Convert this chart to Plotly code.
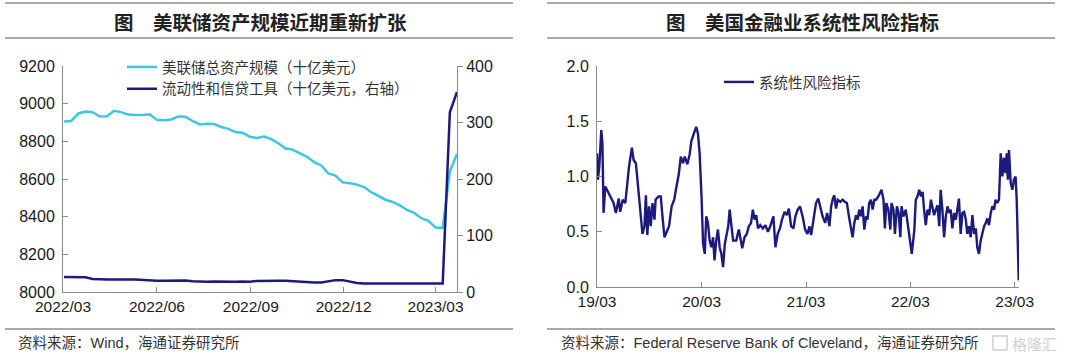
import pandas as pd
import plotly.graph_objects as go

# ---------------- data: left chart (weekly, 十亿美元) ----------------
week_start = "2022-03-02"
fed_total_assets = [
    8905, 8908, 8948, 8958, 8955, 8932, 8933, 8962, 8955, 8942,
    8940, 8940, 8944, 8914, 8912, 8916, 8932, 8930, 8908, 8890,
    8893, 8892, 8876, 8866, 8849, 8846, 8824, 8818, 8826, 8812,
    8790, 8762, 8756, 8738, 8718, 8690, 8672, 8630, 8618, 8582,
    8578, 8570, 8557, 8530, 8508, 8490, 8478, 8460, 8436, 8420,
    8392, 8378, 8342, 8340, 8639, 8733,
]
liquidity_credit = [
    26.5, 26.5, 26, 26, 23, 22, 22, 22, 22.5, 22,
    22, 21, 20, 20, 20, 20, 20.5, 20.5, 19, 18,
    18, 18.5, 18, 18, 18, 18.5, 18, 19.5, 20, 20,
    20, 20, 19, 18, 18, 17, 17, 19, 21, 21,
    18, 16, 15, 15, 15, 15, 15, 15, 15, 15,
    15, 15, 15, 15, 318, 354,
]
week_dates = pd.date_range(week_start, periods=len(fed_total_assets), freq="7D")

left_x_ticks = ["2022-03-01", "2022-06-01", "2022-09-01", "2022-12-01", "2023-03-01"]
left_x_labels = ["2022/03", "2022/06", "2022/09", "2022/12", "2023/03"]

# ---------------- data: right chart (系统性风险指标) ----------------
risk_dates = [
    "2019-03-01", "2019-03-04", "2019-03-09", "2019-03-16", "2019-03-20", "2019-03-24", "2019-03-30",
    "2019-04-05", "2019-04-16", "2019-04-28", "2019-05-06", "2019-05-16", "2019-05-21", "2019-05-30",
    "2019-06-08", "2019-06-13", "2019-06-21", "2019-07-01", "2019-07-07", "2019-07-15", "2019-07-24",
    "2019-08-02", "2019-08-07", "2019-08-14", "2019-08-19", "2019-08-24", "2019-08-30", "2019-09-05",
    "2019-09-11", "2019-09-18", "2019-09-22", "2019-10-02", "2019-10-10", "2019-10-16", "2019-10-23",
    "2019-10-31", "2019-11-08", "2019-11-17", "2019-11-26", "2019-12-04", "2019-12-12", "2019-12-19",
    "2019-12-27", "2020-01-02", "2020-01-11", "2020-01-19", "2020-01-25", "2020-02-03", "2020-02-11",
    "2020-02-17", "2020-02-23", "2020-03-01", "2020-03-06", "2020-03-12", "2020-03-17", "2020-03-23",
    "2020-03-29", "2020-04-04", "2020-04-10", "2020-04-15", "2020-04-21", "2020-04-27", "2020-05-03",
    "2020-05-09", "2020-05-15", "2020-05-21", "2020-05-27", "2020-06-02", "2020-06-07", "2020-06-13",
    "2020-06-19", "2020-06-30", "2020-07-09", "2020-07-14", "2020-07-21", "2020-07-29", "2020-08-06",
    "2020-08-13", "2020-08-21", "2020-08-27", "2020-09-02", "2020-09-08", "2020-09-14", "2020-09-22",
    "2020-10-01", "2020-10-10", "2020-10-19", "2020-10-27", "2020-11-03", "2020-11-07", "2020-11-14",
    "2020-11-22", "2020-11-30", "2020-12-07", "2020-12-16", "2020-12-24", "2020-12-31", "2021-01-08",
    "2021-01-16", "2021-01-23", "2021-01-31", "2021-02-08", "2021-02-17", "2021-02-26", "2021-03-06",
    "2021-03-13", "2021-03-19", "2021-03-28", "2021-04-05", "2021-04-13", "2021-04-20", "2021-04-28",
    "2021-05-07", "2021-05-14", "2021-05-22", "2021-05-28", "2021-06-03", "2021-06-08", "2021-06-14",
    "2021-06-20", "2021-06-29", "2021-07-07", "2021-07-15", "2021-07-22", "2021-07-31", "2021-08-05",
    "2021-08-11", "2021-08-17", "2021-08-23", "2021-08-29", "2021-09-03", "2021-09-09", "2021-09-15",
    "2021-09-21", "2021-09-27", "2021-10-02", "2021-10-08", "2021-10-14", "2021-10-20", "2021-10-26",
    "2021-11-01", "2021-11-09", "2021-11-16", "2021-11-20", "2021-11-27", "2021-12-02", "2021-12-07",
    "2021-12-14", "2021-12-21", "2021-12-25", "2022-01-01", "2022-01-06", "2022-01-13", "2022-01-19",
    "2022-01-25", "2022-01-29", "2022-02-05", "2022-02-13", "2022-02-21", "2022-02-28", "2022-03-06",
    "2022-03-15", "2022-03-20", "2022-03-26", "2022-04-01", "2022-04-07", "2022-04-13", "2022-04-18",
    "2022-04-24", "2022-04-30", "2022-05-06", "2022-05-12", "2022-05-17", "2022-05-23", "2022-05-29",
    "2022-06-04", "2022-06-10", "2022-06-15", "2022-06-21", "2022-06-27", "2022-07-03", "2022-07-09",
    "2022-07-15", "2022-07-20", "2022-07-26", "2022-08-01", "2022-08-07", "2022-08-13", "2022-08-18",
    "2022-08-24", "2022-08-30", "2022-09-05", "2022-09-11", "2022-09-16", "2022-09-22", "2022-09-28",
    "2022-10-04", "2022-10-10", "2022-10-16", "2022-10-21", "2022-10-27", "2022-11-02", "2022-11-08",
    "2022-11-14", "2022-11-20", "2022-11-25", "2022-12-01", "2022-12-07", "2022-12-13", "2022-12-19",
    "2022-12-24", "2022-12-30", "2023-01-05", "2023-01-11", "2023-01-17", "2023-01-22", "2023-01-28",
    "2023-02-01", "2023-02-05", "2023-02-09", "2023-02-15", "2023-02-21", "2023-02-26", "2023-03-04",
    "2023-03-08", "2023-03-11", "2023-03-15",
]
risk_values = [
    1.21, 0.97, 1.09, 1.42, 1.30, 0.67, 0.91,
    0.88, 0.82, 0.76, 0.67, 0.80, 0.68, 0.79,
    0.76, 0.89, 1.09, 1.26, 1.15, 1.12, 0.85,
    0.61, 0.48, 0.55, 0.83, 0.47, 0.73, 0.55,
    0.76, 0.61, 0.79, 0.82, 0.82, 0.64, 0.45,
    0.50, 0.55, 0.73, 0.79, 0.91, 1.02, 1.18,
    1.12, 1.18, 1.11, 1.20, 1.32, 1.39, 1.45,
    1.39, 1.21, 0.79, 0.39, 0.30, 0.64, 0.58,
    0.42, 0.36, 0.45, 0.24, 0.42, 0.52, 0.36,
    0.30, 0.18, 0.39, 0.48, 0.55, 0.70, 0.55,
    0.42, 0.42, 0.52, 0.45, 0.35, 0.45, 0.48,
    0.55, 0.58, 0.70, 0.61, 0.65, 0.53, 0.56,
    0.53, 0.56, 0.50, 0.55, 0.61, 0.64, 0.36,
    0.48, 0.53, 0.61, 0.68, 0.65, 0.71, 0.55,
    0.53, 0.64, 0.70, 0.73, 0.64, 0.52, 0.48,
    0.55, 0.47, 0.61, 0.76, 0.80, 0.73, 0.64,
    0.58, 0.67, 0.55, 0.73, 0.80, 0.83, 0.71,
    0.79, 0.77, 0.79, 0.77, 0.76, 0.61, 0.55,
    0.45, 0.58, 0.65, 0.61, 0.70, 0.64, 0.73,
    0.52, 0.64, 0.61, 0.76, 0.79, 0.70, 0.79,
    0.79, 0.82, 0.86, 0.88, 0.79, 0.53, 0.76,
    0.70, 0.52, 0.76, 0.70, 0.48, 0.73, 0.67,
    0.45, 0.73, 0.64, 0.70, 0.55, 0.39, 0.30,
    0.52, 0.79, 0.82, 0.88, 0.82, 0.86, 0.70,
    0.56, 0.70, 0.65, 0.79, 0.73, 0.65, 0.70,
    0.74, 0.55, 0.88, 0.70, 0.45, 0.64, 0.73,
    0.67, 0.70, 0.53, 0.67, 0.61, 0.70, 0.80,
    0.48, 0.67, 0.68, 0.61, 0.48, 0.55, 0.45,
    0.65, 0.48, 0.53, 0.36, 0.30, 0.42, 0.48,
    0.55, 0.58, 0.62, 0.56, 0.67, 0.73, 0.70,
    0.79, 0.76, 0.79, 1.21, 1.00, 1.17, 1.03,
    1.21, 0.97, 1.24, 0.94, 0.88, 0.97, 1.00,
    0.79, 0.39, 0.06,
]
right_x_ticks = ["2019-03-01", "2020-03-01", "2021-03-01", "2022-03-01", "2023-03-01"]
right_x_labels = ["19/03", "20/03", "21/03", "22/03", "23/03"]

# ---------------- texts ----------------
left_title = "图\u3000美联储资产规模近期重新扩张"
right_title = "图\u3000美国金融业系统性风险指标"
left_source = "资料来源：Wind，海通证券研究所"
right_source = "资料来源：Federal Reserve Bank of Cleveland，海通证券研究所"
name_assets = "美联储总资产规模（十亿美元）"
name_liq = "流动性和信贷工具（十亿美元，右轴）"
name_risk = "系统性风险指标"

# ---------------- styling ----------------
W, H = 1080, 359
CJK = "Noto Sans CJK SC"
MIX = "Liberation Sans, Noto Sans CJK SC, sans-serif"
NUM = "Liberation Sans, Arial, sans-serif"
CYAN = "#3ec6e3"
NAVY = "#1b1b7e"
AXIS = "#8a8a8a"


def px_x(p):
    return p / W


def px_y(p):
    return 1 - p / H


fig = go.Figure()

fig.add_trace(go.Scatter(x=week_dates, y=fed_total_assets, name=name_assets, mode="lines",
                         line=dict(color=CYAN, width=2.5), xaxis="x", yaxis="y", legend="legend"))
fig.add_trace(go.Scatter(x=week_dates, y=liquidity_credit, name=name_liq, mode="lines",
                         line=dict(color=NAVY, width=2.5), xaxis="x", yaxis="y2", legend="legend"))
fig.add_trace(go.Scatter(x=risk_dates, y=risk_values, name=name_risk, mode="lines",
                         line=dict(color=NAVY, width=2.4), xaxis="x2", yaxis="y3", legend="legend2"))

tickfont_y = dict(family=NUM, size=16, color="#1a1a1a")
tickfont_x = dict(family=NUM, size=15.5, color="#1a1a1a")
base_axis = dict(showline=True, linecolor=AXIS, linewidth=1, showgrid=False, zeroline=False,
                 ticklen=5, tickcolor=AXIS, automargin=False)

fig.update_layout(
    width=W, height=H,
    margin=dict(l=0, r=0, t=0, b=0, autoexpand=False),
    paper_bgcolor="white", plot_bgcolor="white",
    xaxis=dict(domain=[px_x(63), px_x(457)], anchor="y", type="date",
               range=["2022-03-01", "2023-03-22"], tickvals=left_x_ticks, ticktext=left_x_labels,
               ticks="inside", tickfont=tickfont_x, **base_axis),
    yaxis=dict(domain=[px_y(292), px_y(66)], anchor="x", range=[8000, 9200], dtick=200,
               ticks="inside", tickfont=tickfont_y, ticklabelstandoff=4, **base_axis),
    yaxis2=dict(domain=[px_y(292), px_y(66)], anchor="x", overlaying="y", side="right",
                range=[0, 400], dtick=100, ticks="outside", tickfont=tickfont_y, **base_axis),
    xaxis2=dict(domain=[px_x(597), px_x(1019)], anchor="y3", type="date",
                range=["2019-03-01", "2023-03-16"], tickvals=right_x_ticks, ticktext=right_x_labels,
                ticks="inside", tickfont=tickfont_x, **base_axis),
    yaxis3=dict(domain=[px_y(287), px_y(66)], anchor="x2", range=[0, 2.0], dtick=0.5,
                tickformat=".1f", ticks="inside", tickfont=tickfont_y, ticklabelstandoff=4, **base_axis),
    legend=dict(x=px_x(122), y=px_y(51), xanchor="left", yanchor="top", bgcolor="rgba(0,0,0,0)",
                font=dict(family=CJK, size=14.5, color="#333333"), tracegroupgap=0),
    legend2=dict(x=px_x(719), y=px_y(66), xanchor="left", yanchor="top", bgcolor="rgba(0,0,0,0)",
                 font=dict(family=CJK, size=14.5, color="#333333")),
    showlegend=True,
)

# separator lines (panel decoration)
shapes = []
for y in (3, 38, 329):
    shapes.append(dict(type="line", xref="paper", yref="paper", x0=px_x(5), x1=px_x(513),
                       y0=px_y(y), y1=px_y(y), line=dict(color="#555555", width=1)))
    shapes.append(dict(type="line", xref="paper", yref="paper", x0=px_x(547), x1=px_x(1055),
                       y0=px_y(y), y1=px_y(y), line=dict(color="#555555", width=1)))
# watermark icon box
shapes.append(dict(type="rect", xref="paper", yref="paper", x0=px_x(993), x1=px_x(1007),
                   y0=px_y(350), y1=px_y(336), line=dict(color="#cfcfcf", width=1.5)))
fig.update_layout(shapes=shapes)

ann = [
    dict(text=f"<b>{left_title}</b>", x=px_x(260), y=px_y(21), xref="paper", yref="paper",
         showarrow=False, font=dict(family=CJK, size=19.5, color="#222222"), xanchor="center", yanchor="middle"),
    dict(text=f"<b>{right_title}</b>", x=px_x(802), y=px_y(21), xref="paper", yref="paper",
         showarrow=False, font=dict(family=CJK, size=19.5, color="#222222"), xanchor="center", yanchor="middle"),
    dict(text=left_source, x=px_x(16), y=px_y(343), xref="paper", yref="paper", showarrow=False,
         font=dict(family=MIX, size=14.5, color="#333333"), xanchor="left", yanchor="middle"),
    dict(text=right_source, x=px_x(559), y=px_y(343), xref="paper", yref="paper", showarrow=False,
         font=dict(family=MIX, size=14.5, color="#333333"), xanchor="left", yanchor="middle"),
    dict(text="格隆汇", x=px_x(1010), y=px_y(343), xref="paper", yref="paper", showarrow=False,
         font=dict(family=CJK, size=15, color="#d0d0d0"), xanchor="left", yanchor="middle"),
]
fig.update_layout(annotations=ann)

fig.write_html("out.html", config={"displayModeBar": False},
               post_script="document.body.style.margin='0';document.body.style.overflow='hidden';")
